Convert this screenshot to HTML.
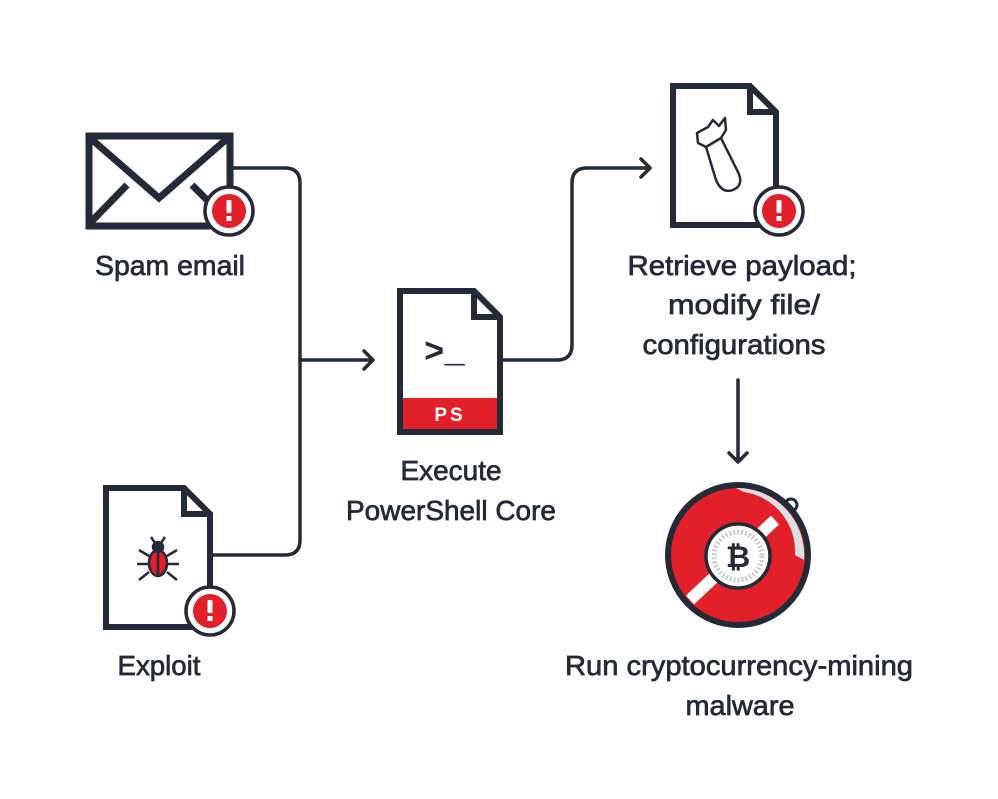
<!DOCTYPE html>
<html><head><style>html,body{margin:0;padding:0;background:#fff}svg{display:block}</style></head><body>
<svg width="998" height="799" viewBox="0 0 998 799" xmlns="http://www.w3.org/2000/svg">
<g fill="none" stroke="#232a38" stroke-width="3.5" stroke-linecap="round" stroke-linejoin="round">
<path d="M231 168 H285 Q300 168 300 183 V540 Q300 555 285 555 H212"/>
<path d="M300 360 H373 M364 351 L373 360 L364 369"/>
<path d="M500 360 H557 Q572 360 572 345 V183 Q572 168 587 168 H650 M641 159 L650 168 L641 177"/>
<path d="M738 380 V462 M729 453 L738 462 L747 453"/>
</g>
<g fill="none" stroke="#232a38" stroke-width="7" stroke-linejoin="miter">
<rect x="89" y="136" width="141" height="90" fill="#fff"/>
<path d="M89 137 L159 198 L229 137"/>
<path d="M91 222 L127 185 M192 185 L225 218"/>
</g>
<g stroke="#232a38" stroke-width="6" fill="#fff" stroke-linejoin="miter">
<path d="M106 488 H184 L210 514 V627 H106 Z"/>
<path d="M184 488 V514 H210" fill="none"/>
<path d="M400 291 H474 L500 317 V432 H400 Z"/>
<path d="M474 291 V317 H500" fill="none"/>
<path d="M673 86 H750 L776 112 V225 H673 Z"/>
<path d="M750 86 V112 H776" fill="none"/>
</g>
<rect x="403" y="398" width="94" height="31" fill="#e2202a"/>
<text x="450" y="421" font-family="Liberation Sans, sans-serif" font-weight="bold" font-size="19" fill="#fff" text-anchor="middle" letter-spacing="3">PS</text>
<text x="424" y="362" font-family="Liberation Mono, monospace" font-weight="bold" font-size="34" fill="#232a38">&gt;_</text>
<g stroke="#232a38" stroke-width="2.5" fill="none">
<ellipse cx="158" cy="563" rx="9" ry="13" fill="#e2202a"/>
<circle cx="158" cy="547" r="5" fill="#232a38"/>
<path d="M149 556 L139 550 M149 564 L137 564 M149 572 L139 580 M167 556 L177 550 M167 564 L179 564 M167 572 L177 580 M155 543 L151 537 M161 543 L165 537 M158 551 V576"/>
</g>
<g stroke="#232a38" stroke-width="2.5" fill="none" stroke-linejoin="round">
<path d="M697 133 L708 127 L713 120 L719 126 L725 118 L726 130 L721 138 L737 170 Q745 185 733 190 Q722 194 716 180 L706 147 L698 143 Z"/>
<path d="M706 147 L721 138"/>
</g>
<g>
<circle cx="229" cy="211" r="24" fill="#fff" stroke="#232a38" stroke-width="3.5"/>
<circle cx="229" cy="211" r="17" fill="#e2202a"/>
<circle cx="210" cy="611" r="24" fill="#fff" stroke="#232a38" stroke-width="3.5"/>
<circle cx="210" cy="611" r="17" fill="#e2202a"/>
<circle cx="779" cy="211" r="24" fill="#fff" stroke="#232a38" stroke-width="3.5"/>
<circle cx="779" cy="211" r="17" fill="#e2202a"/>
</g>
<g fill="#fff">
<rect x="226.5" y="200" width="5" height="13" rx="1"/><rect x="226.5" y="216" width="5" height="5"/>
<rect x="207.5" y="600" width="5" height="13" rx="1"/><rect x="207.5" y="616" width="5" height="5"/>
<rect x="776.5" y="200" width="5" height="13" rx="1"/><rect x="776.5" y="216" width="5" height="5"/>
</g>
<circle cx="791" cy="505" r="6" fill="none" stroke="#232a38" stroke-width="3"/>
<circle cx="738" cy="555" r="70" fill="#e2202a" stroke="#232a38" stroke-width="6"/>
<path d="M736 488 A67 67 0 0 1 804 560 L795 555 A60 60 0 0 0 744 492 Z" fill="#dde0e3"/>
<path d="M690 600 L775 520" stroke="#fff" stroke-width="12"/>
<circle cx="738" cy="556" r="32" fill="#fff" stroke="#232a38" stroke-width="3.5"/>
<circle cx="738" cy="556" r="24" fill="none" stroke="#c8ccd0" stroke-width="5" stroke-dasharray="2 2"/>
<text x="738" y="567" font-family="Liberation Sans, sans-serif" font-weight="bold" font-size="30" fill="#232a38" text-anchor="middle">₿</text>
<g font-family="Liberation Sans Narrow, Liberation Sans, sans-serif" font-size="28" fill="#232a38" stroke="#232a38" stroke-width="0.7" text-anchor="middle">
<text x="170" y="275" textLength="150" lengthAdjust="spacingAndGlyphs">Spam email</text>
<text x="159" y="675" textLength="83" lengthAdjust="spacingAndGlyphs">Exploit</text>
<text x="451" y="480" textLength="101" lengthAdjust="spacingAndGlyphs">Execute</text>
<text x="451" y="520" textLength="210" lengthAdjust="spacingAndGlyphs">PowerShell Core</text>
<text x="742" y="275" textLength="229" lengthAdjust="spacingAndGlyphs">Retrieve payload;</text>
<text x="744" y="314" textLength="152" lengthAdjust="spacingAndGlyphs">modify file/</text>
<text x="734" y="354" textLength="183" lengthAdjust="spacingAndGlyphs">configurations</text>
<text x="739" y="675" textLength="348" lengthAdjust="spacingAndGlyphs">Run cryptocurrency-mining</text>
<text x="740" y="715" textLength="109" lengthAdjust="spacingAndGlyphs">malware</text>
</g>
</svg>
</body></html>
